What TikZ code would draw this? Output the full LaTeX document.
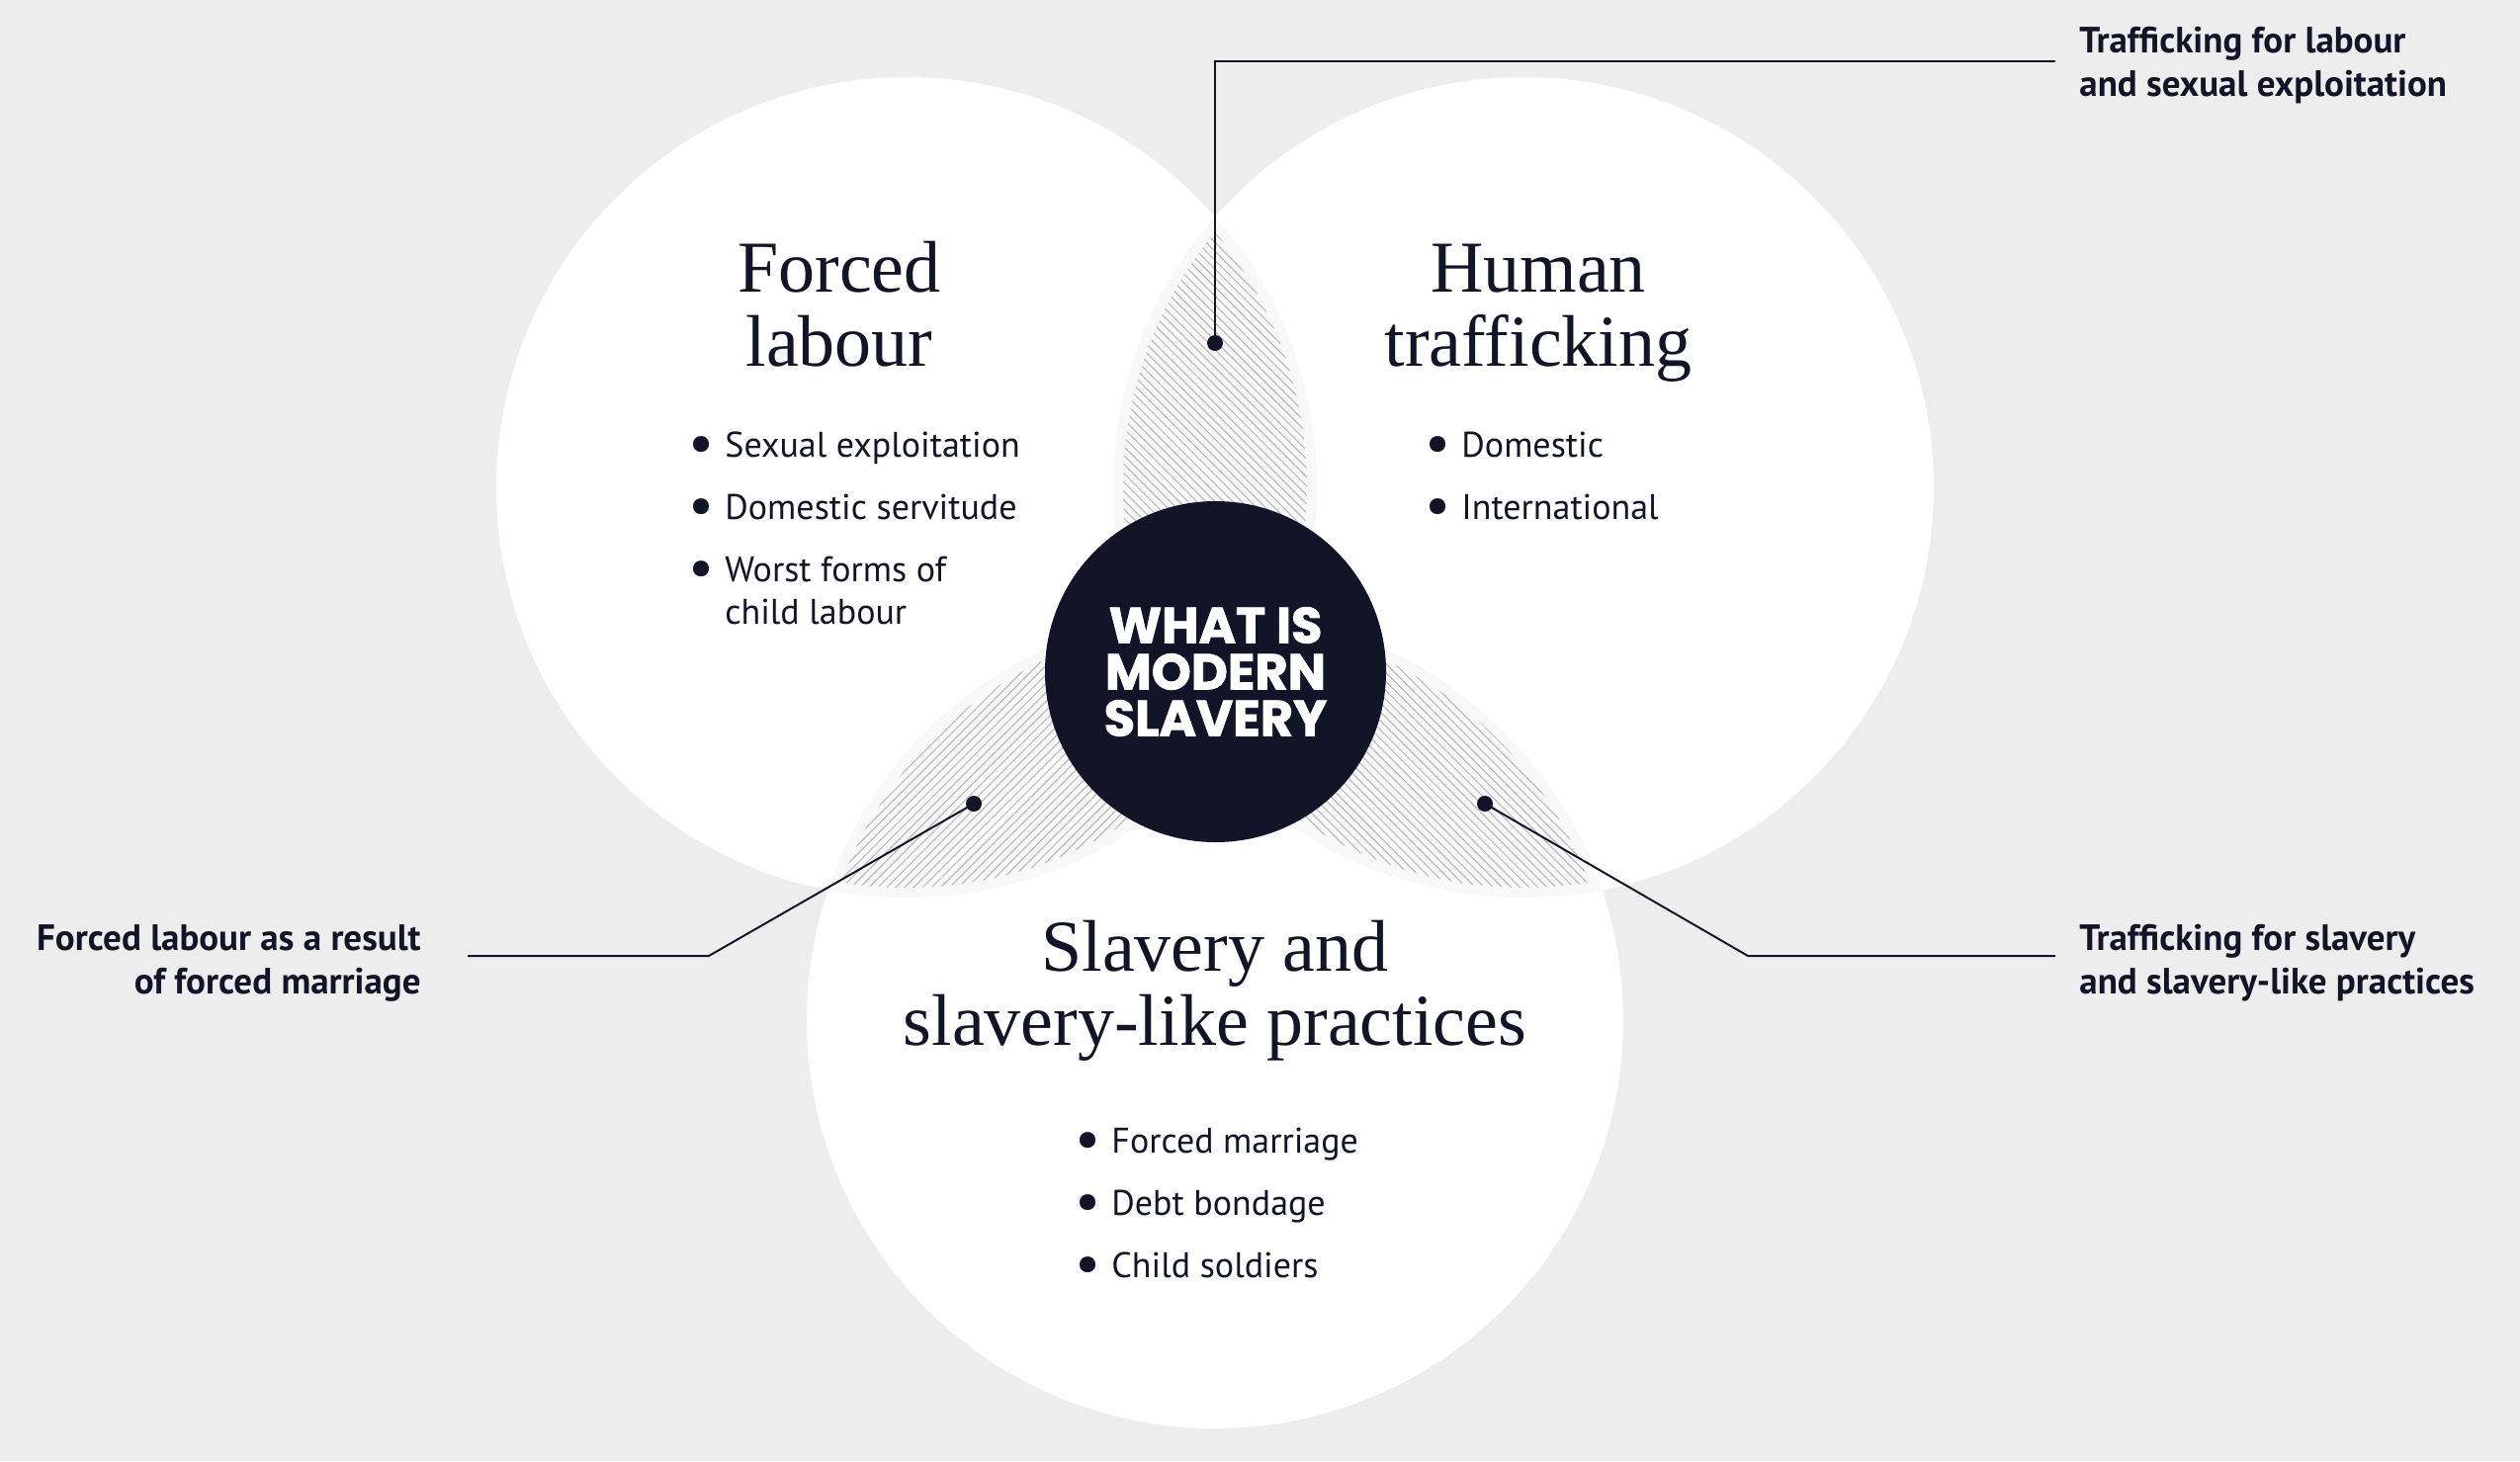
\documentclass[tikz,border=0pt]{standalone}
\usepackage{fontspec}
\setmainfont{Liberation Serif}
\setsansfont{PT Sans}
\newfontfamily\corefont{Poppins}[BoldFeatures={FakeBold=1.6}]
\usetikzlibrary{patterns.meta}
\definecolor{ink}{HTML}{141428}
\definecolor{paper}{HTML}{EDEDED}
\definecolor{lens}{HTML}{F8F8F8}
\definecolor{hatchc}{HTML}{B4B4B4}

\begin{document}
\begin{tikzpicture}[x=0.5pt,y=0.5pt,
  title/.style={font=\fontsize{37}{37.5}\selectfont,text=ink,align=center,anchor=base,inner sep=0},
  list/.style={font=\sffamily\fontsize{18}{21.5}\selectfont,text=ink,anchor=base west,inner sep=0},
  callout/.style={font=\sffamily\bfseries\fontsize{18.5}{22}\selectfont,text=ink,inner sep=0},
  pin/.style={circle,fill=ink,inner sep=0,minimum size=8pt},
  leader/.style={draw=ink,line width=1pt},
  hatchne/.style={pattern={Lines[angle=45,distance=3.2pt,line width=0.5pt]},pattern color=hatchc},
  hatchnw/.style={pattern={Lines[angle=-45,distance=3.2pt,line width=0.5pt]},pattern color=hatchc}]
\newcommand{\bul}{\makebox[16pt][l]{\hspace*{-2.5pt}\raisebox{-2.8pt}{\scalebox{1.6}{\textbullet}}}}

% background and the three sets
\fill[paper] (0,0) rectangle (2549,-1478);
\coordinate (cL) at (917,-493);
\coordinate (cR) at (1541,-493);
\coordinate (cB) at (1229,-1032);
\fill[white] (cL) circle (415);
\fill[white] (cR) circle (415);
\fill[white] (cB) circle (413);

% overlaps
\begin{scope}
  \clip (cL) circle (415); \clip (cR) circle (415);
  \fill[lens] (1100,-200) rectangle (1360,-800);
  \clip (cL) circle (405); \clip (cR) circle (405);
  \fill[hatchnw] (1100,-200) rectangle (1360,-800);
\end{scope}
\begin{scope}
  \clip (cL) circle (415); \clip (cB) circle (413);
  \fill[lens] (820,-600) rectangle (1340,-920);
  \clip (cL) circle (405); \clip (cB) circle (403);
  \fill[hatchne] (820,-600) rectangle (1340,-920);
\end{scope}
\begin{scope}
  \clip (cR) circle (415); \clip (cB) circle (413);
  \fill[lens] (1120,-600) rectangle (1640,-920);
  \clip (cR) circle (405); \clip (cB) circle (403);
  \fill[hatchnw] (1120,-600) rectangle (1640,-920);
\end{scope}

% core
\node[circle,fill=ink,minimum size=172.5pt,inner sep=0,text=white,align=center,
  font=\corefont\bfseries\fontsize{25.5}{23.5}\selectfont] (core) at (1229.5,-679.5) {WHAT IS\\MODERN\\SLAVERY};

% titles
\node[title] (tLab) at (849,-370) {Forced\\labour};
\node[title] (tTra) at (1556,-370) {Human\\trafficking};
\node[title] (tSla) at (1229,-1057) {Slavery and\\slavery-like practices};

% lists
\node[list] (lLab) at (701,-462) {\begin{tabular}[t]{@{}l@{}l@{}}
  \bul & Sexual exploitation\\[10pt]
  \bul & Domestic servitude\\[10pt]
  \bul & Worst forms of\\
       & child labour
  \end{tabular}};
\node[list] (lTra) at (1446,-462) {\begin{tabular}[t]{@{}l@{}l@{}}
  \bul & Domestic\\[10pt]
  \bul & International
  \end{tabular}};
\node[list] (lSla) at (1092,-1166) {\begin{tabular}[t]{@{}l@{}l@{}}
  \bul & Forced marriage\\[10pt]
  \bul & Debt bondage\\[10pt]
  \bul & Child soldiers
  \end{tabular}};

% callouts
\node[callout,anchor=base west,align=left] (nTop) at (2103,-97) {Trafficking for labour\\and sexual exploitation};
\node[callout,anchor=base east,align=right] (nLeft) at (426,-1005) {Forced labour as a result\\of forced marriage};
\node[callout,anchor=base west,align=left] (nRight) at (2103,-1005) {Trafficking for slavery\\and slavery-like practices};

\node[pin] (pTop) at (1229,-347) {};
\node[pin] (pLeft) at (985,-813) {};
\node[pin] (pRight) at (1502,-813) {};
\coordinate (kTop) at (1229,-62);   \coordinate (eTop) at (2079,-62);
\coordinate (kLeft) at (717,-967);  \coordinate (eLeft) at (473,-967);
\coordinate (kRight) at (1768,-967); \coordinate (eRight) at (2079,-967);
\draw[leader] (pTop.center) -- (kTop) -- (eTop);
\draw[leader] (pLeft.center) -- (kLeft) -- (eLeft);
\draw[leader] (pRight.center) -- (kRight) -- (eRight);
\end{tikzpicture}
\end{document}
